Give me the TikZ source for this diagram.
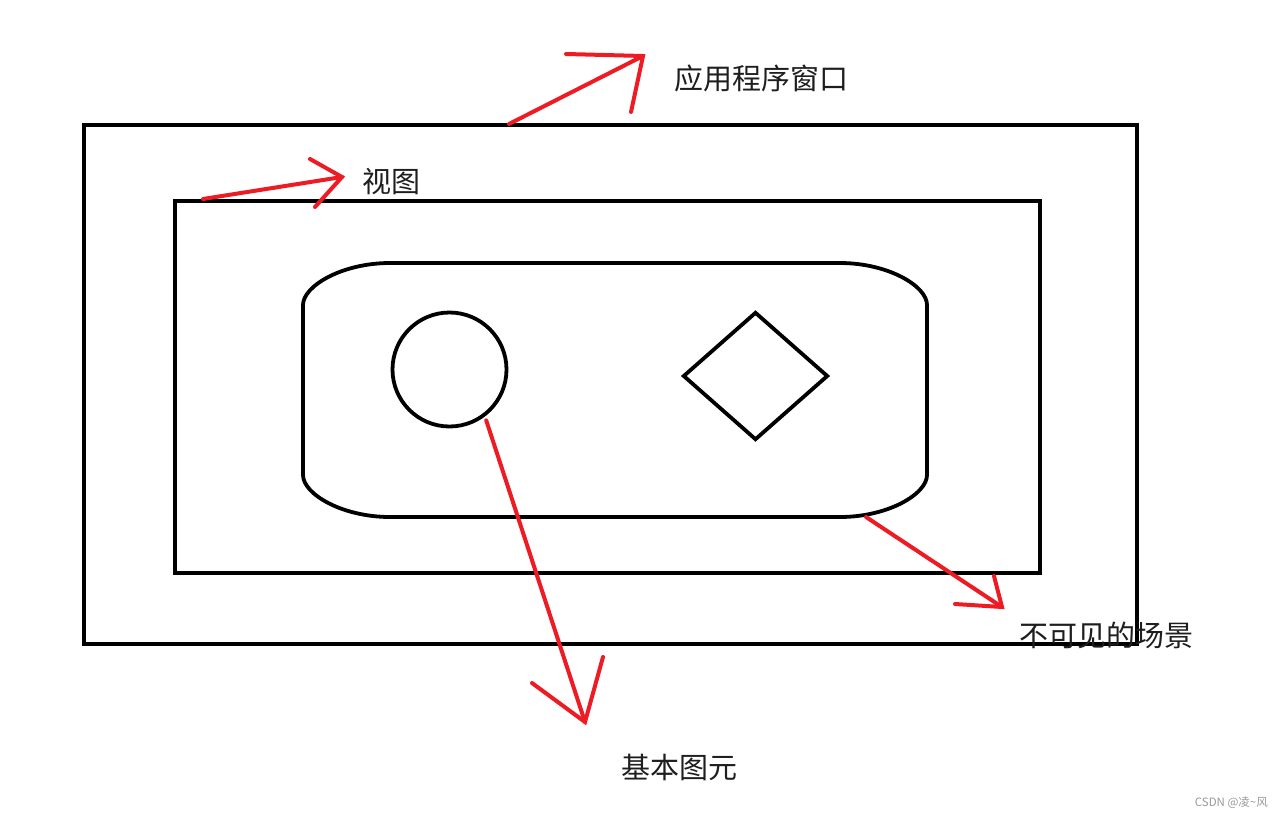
\documentclass[tikz,border=0pt]{standalone}
\usepackage{fontspec}
\usepackage{tikz}
\newfontfamily\cjk{Noto Sans CJK SC}
\definecolor{paintred}{RGB}{237, 28, 36}
\definecolor{inkgray}{RGB}{30, 30, 30}
\usetikzlibrary{shapes.geometric, positioning, calc}

\begin{document}
\begin{tikzpicture}[x=1pt, y=-1pt,
    frame/.style={draw=black, line width=4pt, inner sep=0pt, minimum width=#1},
    shapeline/.style={draw=black, line width=3.8pt, inner sep=0pt},
    pen/.style={draw=paintred, line width=4pt, line cap=round},
    label/.style={font=\cjk\fontsize{29}{34}\selectfont, text=inkgray, inner sep=0pt, anchor=west}
]
    \useasboundingbox (0,0) rectangle (1284,819);

    % application window and view
    \node[frame=1053pt, minimum height=519pt] (app) at (610.5,384.5) {};
    \node[frame=865pt, minimum height=372pt] (view) at (607.5,387) {};

    % scene with rounded ends
    \draw[line width=3.8pt]
        (303,305) -- (303,475) .. controls (303,494) and (342,517) .. (390,517)
        -- (840,517) .. controls (888,517) and (927,494) .. (927,475)
        -- (927,305) .. controls (927,286) and (888,263) .. (840,263)
        -- (390,263) .. controls (342,263) and (303,286) .. (303,305);
    \coordinate (scene) at (866,517);

    % primitives
    \node[shapeline, circle, minimum size=114pt] (prim) at (449.5,369.5) {};
    \node[shapeline, diamond, minimum width=145pt, minimum height=128pt] (gem) at (755.5,376) {};

    % labels
    \node[label] (applabel) at (674,78) {应用程序窗口};
    \node[label] (viewlabel) at (362,182) {视图};
    \node[label] (scenelabel) at (1019,635) {不可见的场景};
    \node[label] (primlabel) at (621,767) {基本图元};
    \node[font=\cjk\fontsize{11.5}{13}\selectfont, text=gray!80, inner sep=0pt, anchor=east] (mark) at (1268,803) {CSDN @凌\textasciitilde 风};

    % red pen arrows
    \coordinate (appfrom) at (509,124);
    \coordinate (apptip) at (643,56);
    \draw[pen] (appfrom) -- (apptip);
    \draw[pen] (566,54) -- (apptip) -- (631,112);

    \coordinate (viewfrom) at (203,199);
    \coordinate (viewtip) at (342,177);
    \draw[pen] (viewfrom) -- (viewtip);
    \draw[pen] (310,159) -- (viewtip) -- (315,207);

    \coordinate (primtip) at (585,722);
    \draw[pen] ($(prim.-53)!4pt!(primtip)$) -- (primtip);
    \draw[pen] (532,683) -- (primtip) -- (603,657);

    \coordinate (scenetip) at (1002,607);
    \draw[pen] (scene) -- (scenetip);
    \draw[pen] (955,604) -- (scenetip) -- (994,576);
\end{tikzpicture}
\end{document}
